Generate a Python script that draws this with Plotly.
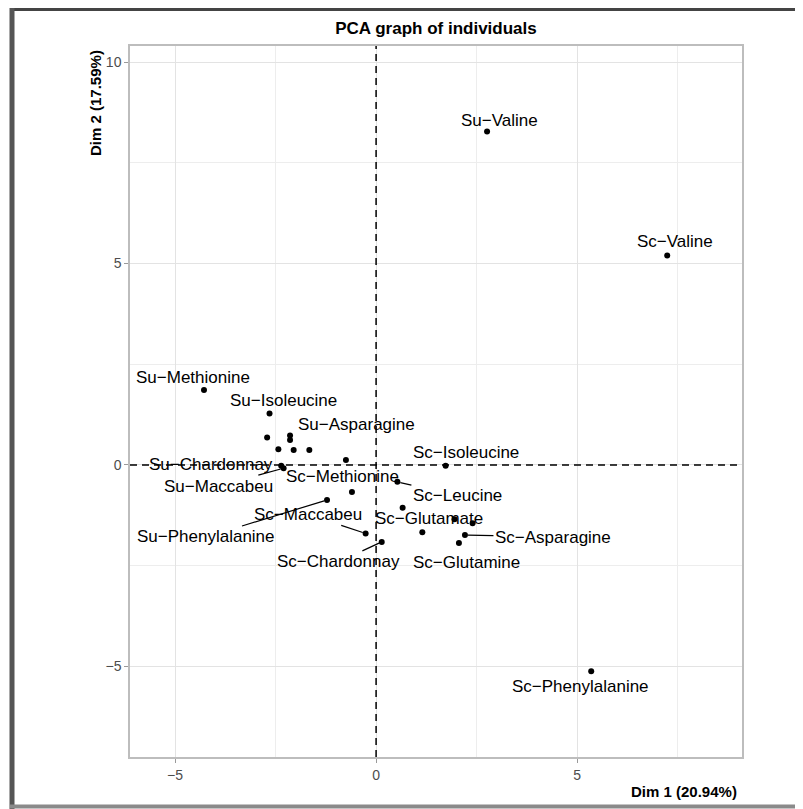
import plotly.graph_objects as go

# ---- data ----
dim1 = [2.76, 7.24, 5.35, -4.28, -2.65, -2.14, -2.36, -2.30, -0.75, -0.26, -1.22,
        0.14, 1.73, 0.53, 0.66, 2.21, 2.06,
        -2.71, -2.14, -2.43, -2.05, -1.66, -0.60, 1.95, 2.40, 1.15]
dim2 = [8.28, 5.20, -5.12, 1.86, 1.28, 0.73, -0.02, -0.08, 0.12, -1.70, -0.87,
        -1.91, -0.02, -0.42, -1.06, -1.74, -1.94,
        0.68, 0.62, 0.39, 0.37, 0.37, -0.67, -1.35, -1.45, -1.67]
labels = ["Su−Valine", "Sc−Valine", "Sc−Phenylalanine", "Su−Methionine", "Su−Isoleucine",
          "Su−Asparagine", "Su−Chardonnay", "Su−Maccabeu", "Sc−Methionine", "Sc−Maccabeu",
          "Su−Phenylalanine", "Sc−Chardonnay", "Sc−Isoleucine", "Sc−Leucine",
          "Sc−Glutamate", "Sc−Asparagine", "Sc−Glutamine",
          "", "", "", "", "", "", "", "", ""]
title_text = "PCA graph of individuals"
xlab = "Dim 1 (20.94%)"
ylab = "Dim 2 (17.59%)"
x_ticks = [-5, 0, 5]
y_ticks = [-5, 0, 5, 10]

# ---- label placement (pixel offsets from the point; dy downwards), segment flag ----
label_pos = {
    "Su−Valine": (12, -11, False),
    "Sc−Valine": (8, -14, False),
    "Sc−Phenylalanine": (-11, 15, False),
    "Su−Methionine": (-11, -13, False),
    "Su−Isoleucine": (14, -13, False),
    "Su−Asparagine": (66, -11, False),
    "Su−Chardonnay": (-70, -1, False),
    "Su−Maccabeu": (-65, 18, True),
    "Sc−Methionine": (-3, 16, False),
    "Sc−Maccabeu": (-58, -19, True),
    "Su−Phenylalanine": (-121, 37, True),
    "Sc−Chardonnay": (-43, 20, True),
    "Sc−Isoleucine": (20, -13, False),
    "Sc−Leucine": (60, 14, True),
    "Sc−Glutamate": (26, 11, False),
    "Sc−Asparagine": (88, 2, True),
    "Sc−Glutamine": (8, 19, False),
}

FONT = "Liberation Sans, Arial, sans-serif"
OFF = 8                      # page body margin of the browser
W, H = 803 - OFF, 809 - OFF
PL, PR, PT, PB = 130, 742, 46, 757   # plot panel edges in window pixels
L, T = PL - OFF, PT - OFF
R, B = W - (PR - OFF), H - (PB - OFF)
pw, ph = PR - PL, PB - PT


def px(rx):
    return (rx - PL) / pw


def py(ry):
    return (PB - ry) / ph


fig = go.Figure()
fig.add_trace(go.Scatter(x=dim1, y=dim2, mode="markers",
                         marker=dict(color="black", size=6),
                         hoverinfo="text", text=labels, showlegend=False))

annotations = []
for xv, yv, lab in zip(dim1, dim2, labels):
    if not lab:
        continue
    dx, dy, seg = label_pos[lab]
    if seg:
        annotations.append(dict(x=xv, y=yv, text=lab, showarrow=True, arrowhead=0,
                                arrowwidth=1.2, arrowcolor="black", ax=dx, ay=dy,
                                standoff=3, font=dict(family=FONT, size=17, color="black")))
    else:
        annotations.append(dict(x=xv, y=yv, text=lab, showarrow=False,
                                xshift=dx, yshift=-dy,
                                font=dict(family=FONT, size=17, color="black")))

# axis titles
annotations.append(dict(text=xlab, xref="paper", yref="paper", x=px(739),
                        y=py(791), xanchor="right", yanchor="middle",
                        showarrow=False,
                        font=dict(family=FONT, size=15, color="black", weight="bold")))
annotations.append(dict(text=ylab, xref="paper", yref="paper", x=px(95),
                        y=py(48), xanchor="center", yanchor="top",
                        textangle=-90, showarrow=False,
                        font=dict(family=FONT, size=15, color="black", weight="bold")))

shapes = [
    dict(type="line", xref="x", yref="paper", x0=0, x1=0, y0=0, y1=1,
         line=dict(color="black", width=1.5, dash="7px,5px")),
    dict(type="line", xref="paper", yref="y", x0=0, x1=1, y0=0, y1=0,
         line=dict(color="black", width=1.5, dash="7px,5px")),
    # outer frame of the picture (window edges)
    dict(type="line", xref="paper", yref="paper", x0=px(10), x1=px(803),
         y0=py(9.5), y1=py(9.5), line=dict(color="#444444", width=3), layer="above"),
    dict(type="line", xref="paper", yref="paper", x0=px(12), x1=px(12),
         y0=py(8), y1=py(809), line=dict(color="#555555", width=5), layer="above"),
    dict(type="line", xref="paper", yref="paper", x0=px(10), x1=px(803),
         y0=py(806.5), y1=py(806.5), line=dict(color="#8a8a8a", width=4), layer="above"),
]

axis_common = dict(showgrid=True, gridcolor="#E3E3E3", gridwidth=1.3,
                   zeroline=False, showline=True, linecolor="#BDBDBD", linewidth=1.5,
                   mirror=True, ticks="outside", ticklen=4, tickcolor="#9A9A9A",
                   tickwidth=1,
                   tickfont=dict(family=FONT, size=14, color="#4D4D4D"),
                   minor=dict(dtick=2.5, showgrid=True, gridcolor="#EDEDED",
                              gridwidth=1, ticks=""))

fig.update_layout(
    width=W, height=H,
    margin=dict(l=L, r=R, t=T, b=B),
    paper_bgcolor="white", plot_bgcolor="white",
    title=dict(text=title_text, x=(436 - OFF) / W, xanchor="center",
               y=1 - (28 - OFF) / H, yanchor="middle", yref="container",
               font=dict(family=FONT, size=17, color="black", weight="bold")),
    xaxis=dict(range=[-6.12, 9.10], tickvals=x_ticks, tick0=0, dtick=5, **axis_common),
    yaxis=dict(range=[-7.25, 10.40], tickvals=y_ticks, tick0=0, dtick=5, **axis_common),
    annotations=annotations,
    shapes=shapes,
)

fig.write_html("out.html")
